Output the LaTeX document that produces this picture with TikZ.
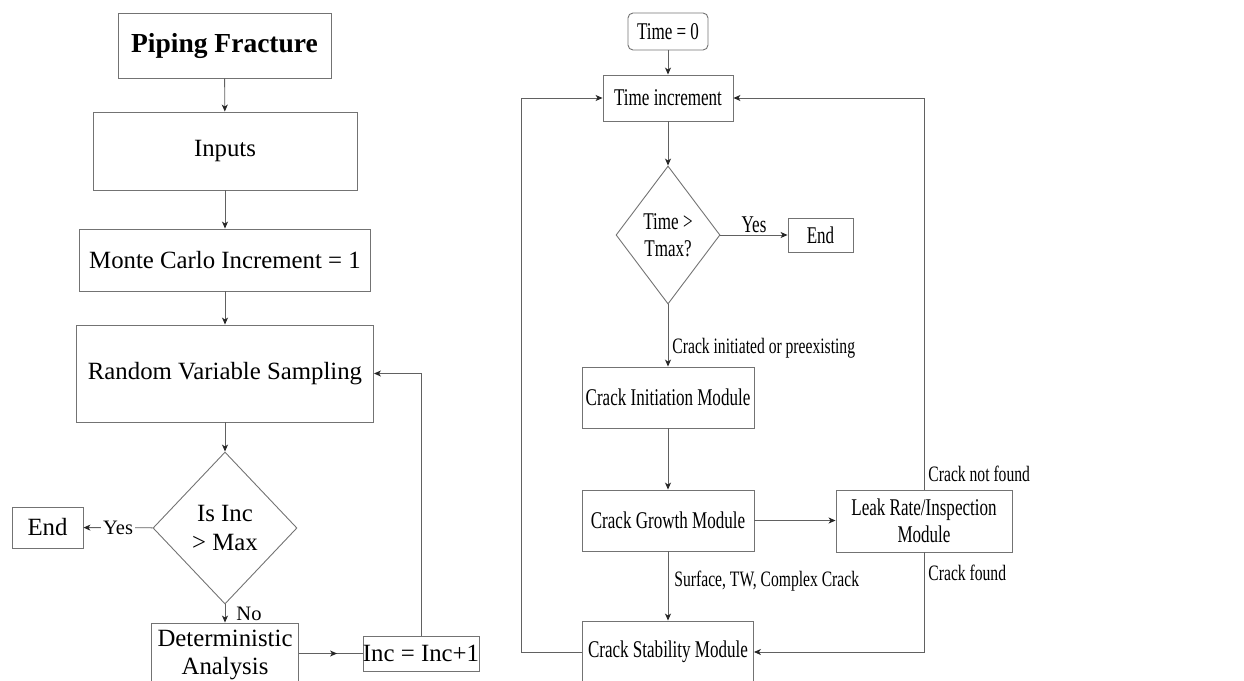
\documentclass[tikz,border=0pt]{standalone}
\usepackage{fontspec}
\setmainfont{Liberation Serif}
\newfontfamily\narrowfont[FakeStretch=0.71]{Liberation Serif}
\usetikzlibrary{shapes.geometric,arrows.meta,decorations.markings}
\tikzset{
    flow/.style={draw=black!62, line width=0.9pt, -{Stealth[length=7pt,width=6pt,inset=2pt,color=black!85]}},
    lbox/.style={rectangle, draw=black!55, line width=0.9pt, inner sep=0pt, align=center, font=\fontsize{24.8}{28.5}\selectfont},
    ldec/.style={diamond, draw=black!55, line width=0.9pt, inner sep=0pt, align=center, font=\fontsize{24.8}{28.5}\selectfont},
    llab/.style={font=\fontsize{20.5}{23}\selectfont, inner sep=2pt},
    rbox/.style={rectangle, draw=black!55, line width=0.9pt, inner sep=0pt, align=center, font=\narrowfont\fontsize{24}{27.5}\selectfont},
    rdec/.style={diamond, draw=black!55, line width=0.9pt, inner sep=0pt, align=center, font=\narrowfont\fontsize{24}{27.5}\selectfont},
    rlab/.style={font=\narrowfont\fontsize{22}{25}\selectfont, inner sep=2pt},
    midarrow/.style={draw=black!62, line width=0.9pt, postaction={decorate},
        decoration={markings, mark=at position #1 with {\arrow{Stealth[length=7pt,width=6pt,inset=2pt,color=black!85]}}}},
}
\begin{document}
\begin{tikzpicture}[x=1pt, y=-1pt]
    \useasboundingbox (0,0) rectangle (1244,680);
    \clip (0,0) rectangle (1244,680);

    \node [lbox, minimum width=213pt, minimum height=65pt, font=\fontsize{27.5}{30}\selectfont\bfseries] (pipe) at (224.5,45.5) {Piping Fracture};
    \node [lbox, minimum width=264pt, minimum height=78pt] (inputs) at (225,151) {Inputs};
    \node [lbox, minimum width=291pt, minimum height=62pt] (mc) at (225,260) {Monte Carlo Increment = 1};
    \node [lbox, minimum width=297pt, minimum height=97pt] (rvs) at (225,373.5) {Random Variable Sampling};
    \node [ldec, minimum width=144pt, minimum height=152pt] (isinc) at (225,528) {Is Inc\\> Max};
    \node [lbox, minimum width=71pt, minimum height=41pt] (endl) at (47.5,527.5) {End};
    \node [lbox, minimum width=147pt, minimum height=64pt] (det) at (225,655) {Deterministic\\Analysis};
    \node [lbox, minimum width=114pt, minimum height=35pt] (inc) at (421,653.5) {Inc = Inc+1};

    \draw [flow] (pipe) -- (inputs);
    \draw [flow] (inputs) -- (mc);
    \draw [flow] (mc) -- (rvs);
    \draw [flow] (rvs) -- (isinc);
    \draw [flow] (isinc) -- node [llab, fill=white] {Yes} (endl);
    \draw [flow] (isinc) -- node [llab, right=9pt] {No} (det);
    \draw [midarrow=0.6] (inc.west -| det.east) -- (inc.west);
    \draw [flow] (inc.north) |- (rvs.east);

    \node [rbox, rounded corners=5pt, minimum width=80pt, minimum height=37pt] (t0) at (668,31.5) {Time = 0};
    \node [rbox, minimum width=130pt, minimum height=46pt] (tinc) at (668,98) {Time increment};
    \node [rdec, minimum width=104pt, minimum height=138pt] (tmax) at (668,235) {Time >\\Tmax?};
    \node [rbox, minimum width=65pt, minimum height=34pt] (endr) at (820.5,235) {End};
    \node [rbox, minimum width=172pt, minimum height=61pt] (cim) at (668,397.5) {Crack Initiation Module};
    \node [rbox, minimum width=172pt, minimum height=61pt] (cgm) at (668,520.5) {Crack Growth Module};
    \node [rbox, minimum width=176pt, minimum height=62pt] (leak) at (924,521) {Leak Rate/Inspection\\Module};
    \node [rbox, minimum width=171pt, minimum height=62pt] (csm) at (668,652) {Crack Stability Module};

    \draw [flow] (t0) -- (tinc);
    \draw [flow] (tinc) -- (tmax);
    \draw [flow] (tmax) -- node [rlab, above, font=\narrowfont\fontsize{24}{27.5}\selectfont] {Yes} (endr);
    \draw [flow] (tmax) -- node [rlab, right=2pt, pos=0.7] {Crack initiated or preexisting} (cim);
    \draw [flow] (cim) -- (cgm);
    \draw [flow] (cgm.east) -- (cgm.east -| leak.west);
    \draw [flow] (cgm) -- node [rlab, right=4pt, pos=0.43] {Surface, TW, Complex Crack} (csm);
    \draw [flow] (leak.south) |- node [rlab, right=2pt, pos=0.1] {Crack found} (csm.east);
    \draw [flow] (leak.north) |- node [rlab, right=2pt, pos=0.02] {Crack not found} (tinc.east);
    \draw [flow] (csm.west) -- ++(-61,0) |- (tinc.west);
\end{tikzpicture}
\end{document}
